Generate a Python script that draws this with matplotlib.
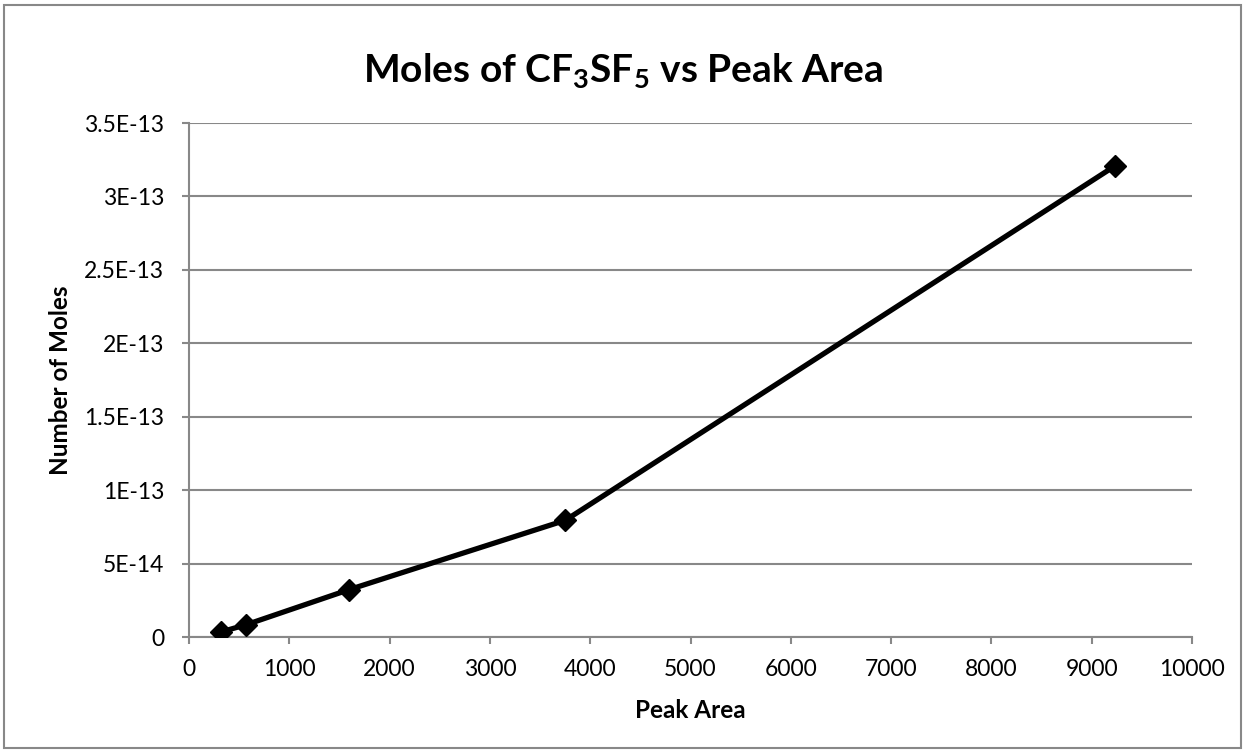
import matplotlib
matplotlib.use('Agg')
import matplotlib.pyplot as plt
from matplotlib.patches import Rectangle

plt.rcParams['font.family'] = ['Lato', 'DejaVu Sans']
plt.rcParams['mathtext.fontset'] = 'custom'
plt.rcParams['mathtext.rm'] = 'Lato'
plt.rcParams['mathtext.bf'] = 'Lato:bold'

# data
peak_area = [315, 570, 1597, 3752, 9236]
moles = [3.4e-15, 8.4e-15, 3.23e-14, 7.95e-14, 3.21e-13]

y_ticks = [0, 5e-14, 1e-13, 1.5e-13, 2e-13, 2.5e-13, 3e-13, 3.5e-13]
y_tick_labels = ['0', '5E-14', '1E-13', '1.5E-13', '2E-13', '2.5E-13', '3E-13', '3.5E-13']
x_ticks = [0, 1000, 2000, 3000, 4000, 5000, 6000, 7000, 8000, 9000, 10000]

grid_col = '#888888'

fig = plt.figure(figsize=(12.46, 7.53), dpi=100)
ax = fig.add_axes([0.1517, 0.154, 0.805, 0.6826])

ax.plot(peak_area, moles, color='black', linewidth=3.8, marker='D',
        markersize=11, markerfacecolor='black', markeredgecolor='black', zorder=3)

ax.set_xlim(0, 10000)
ax.set_ylim(0, 3.5e-13)
ax.set_xticks(x_ticks)
ax.set_xticklabels([str(t) for t in x_ticks])
ax.set_yticks(y_ticks)
ax.set_yticklabels(y_tick_labels)

ax.grid(axis='y', color=grid_col, linewidth=1.5)
ax.set_axisbelow(True)
for s in ['top', 'right']:
    ax.spines[s].set_visible(False)
for s in ['left', 'bottom']:
    ax.spines[s].set_color(grid_col)
    ax.spines[s].set_linewidth(1.5)
ax.tick_params(axis='both', colors=grid_col, labelcolor='black', labelsize=16.5,
               length=5, width=1.5, direction='out')
ax.tick_params(axis='x', pad=11)
ax.tick_params(axis='y', pad=13)

ax.set_xlabel('Peak Area', fontsize=17.5, fontweight='bold')
ax.set_ylabel('Number of Moles', fontsize=17.5, fontweight='bold')
ax.xaxis.set_label_coords(0.5, -0.1206)
ax.yaxis.set_label_coords(-0.1167, 0.5)

fig.text(0.5, 0.905, r'Moles of CF$_\mathbf{3}$SF$_\mathbf{5}$ vs Peak Area',
         ha='center', va='center', fontsize=28, fontweight='bold')

# outer chart border
fig.patches.append(Rectangle((0.003, 0.006), 0.993, 0.988, transform=fig.transFigure,
                             fill=False, edgecolor=grid_col, linewidth=1.5))

fig.savefig('out.png', dpi=100)
